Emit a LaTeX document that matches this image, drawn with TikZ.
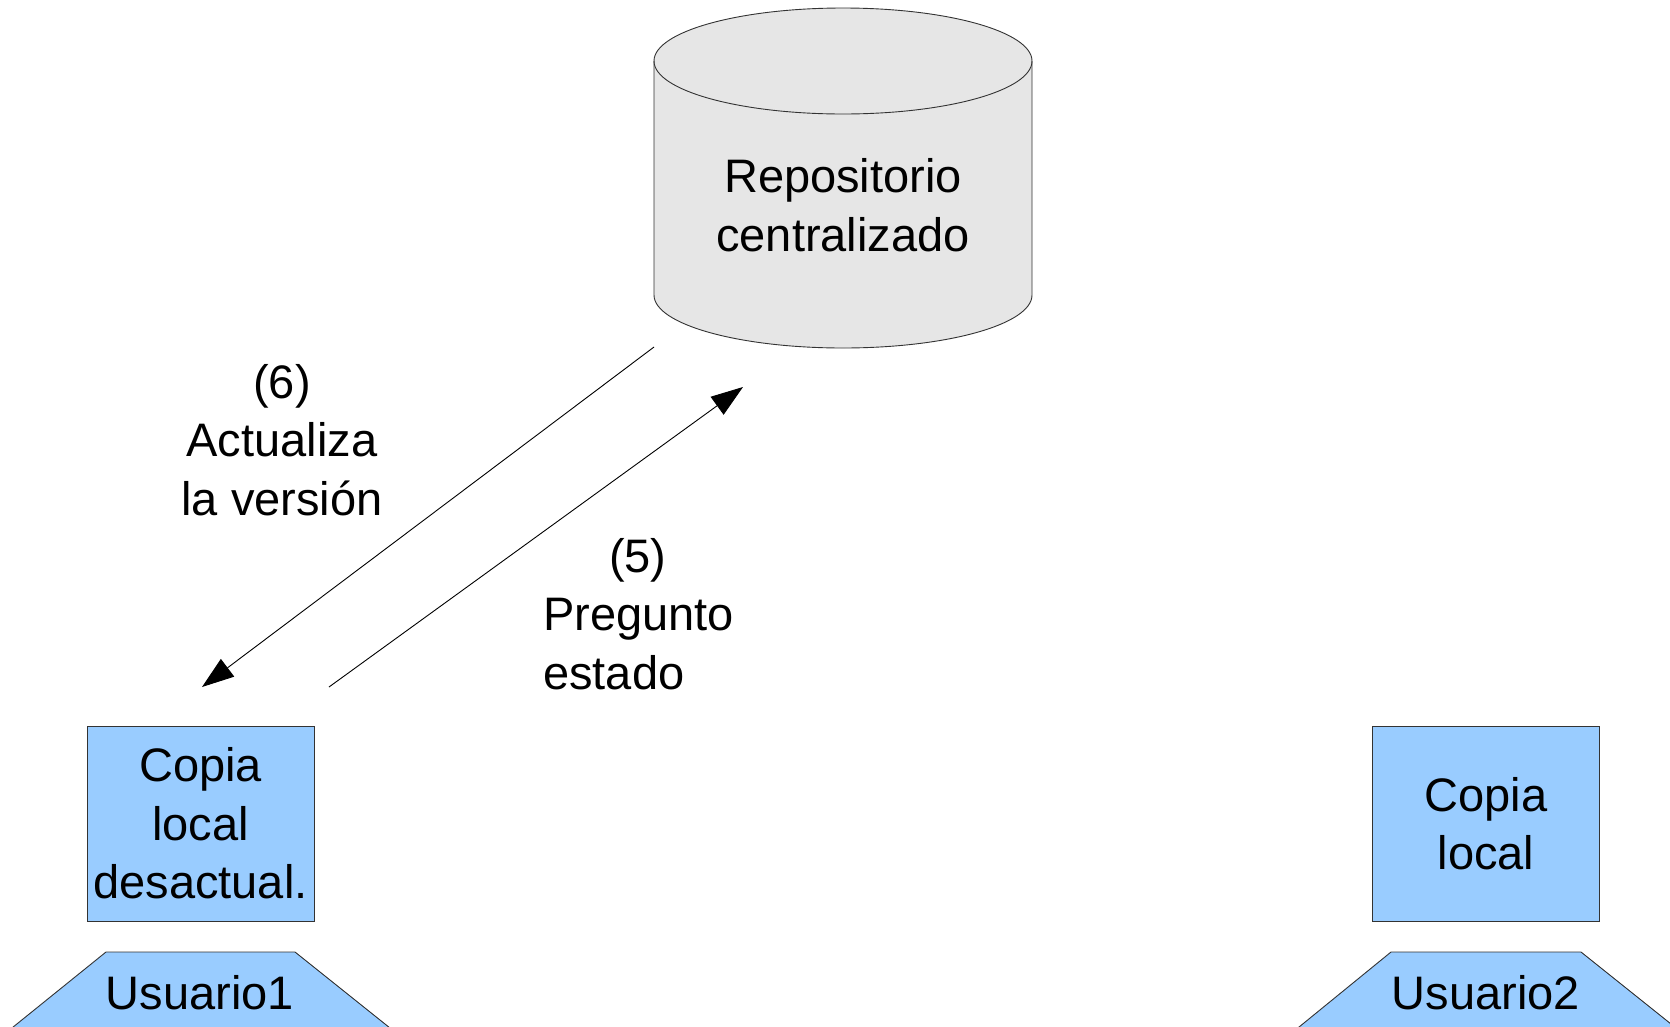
\documentclass[tikz,border=0pt]{standalone}
\usepackage{fontspec}
\setmainfont{Liberation Sans}
\usetikzlibrary{arrows.meta}
\definecolor{boxblue}{HTML}{99CCFF}
\definecolor{cylgray}{HTML}{E6E6E6}
\begin{document}
\begin{tikzpicture}[x=1pt,y=-1pt,
  lbl/.style={font=\fontsize{47}{58.6}\selectfont, inner sep=0pt, align=center},
  bluebox/.style={fill=boxblue, draw=black!80, line width=0.9pt, inner sep=0pt, minimum width=227pt, minimum height=195pt, lbl},
  shapeline/.style={draw=black!80, line width=0.9pt},
  conn/.style={line width=0.9pt, -{Triangle[length=32pt,width=22pt]}}]
\clip (0,0) rectangle (1670,1026);
\fill[white] (0,0) rectangle (1670,1026);
% cylinder
\path[fill=cylgray, shapeline] (654,61) -- (654,295) arc[start angle=180, end angle=360, x radius=189, y radius=-53] -- (1032,61) arc[start angle=0, end angle=180, x radius=189, y radius=-53] -- cycle;
\draw[shapeline] (654,61) arc[start angle=180, end angle=360, x radius=189, y radius=-53];
\node[lbl] (repo) at (843,205) {Repositorio\\centralizado};
% local copies
\node[bluebox] (copia1) at (200.5,823.5) {Copia\\local\\desactual.};
\node[bluebox] (copia2) at (1486,823.5) {Copia\\local};
% users
\path[fill=boxblue, shapeline] (106,952) -- (295,952) -- (400,1036) -- (2,1036) -- cycle;
\node[lbl, anchor=base] (usuario1) at (200,1009) {Usuario1};
\path[fill=boxblue, shapeline] (1391,952) -- (1581,952) -- (1686,1036) -- (1288,1036) -- cycle;
\node[lbl, anchor=base] (usuario2) at (1486,1009) {Usuario2};
% connectors
\coordinate (a6s) at (654,347);
\coordinate (a6e) at (202,687);
\coordinate (a5s) at (329,687);
\coordinate (a5e) at (743,387);
\draw[conn] (a6s) -- (a6e);
\draw[conn] (a5s) -- (a5e);
\node[lbl] (lbl6) at (282,440) {(6)\\Actualiza\\la versión};
\node[lbl, align=left, anchor=west] (lbl5) at (543,614) {\hspace*{66pt}(5)\\Pregunto\\estado};
\end{tikzpicture}
\end{document}
